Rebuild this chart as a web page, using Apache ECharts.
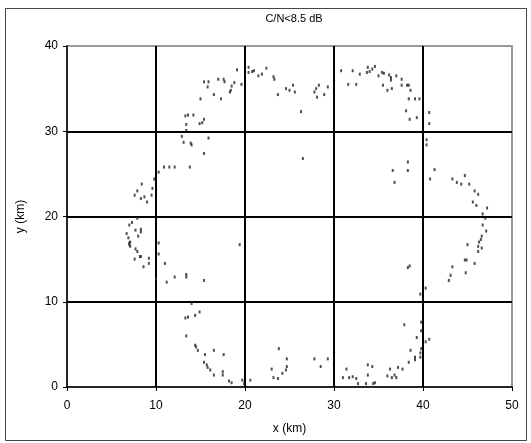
<!DOCTYPE html>
<html><head><meta charset="utf-8">
<script src="https://cdn.jsdelivr.net/npm/echarts@6/dist/echarts.min.js"></script>
<style>html,body{margin:0;padding:0;background:#fff}#c{width:531px;height:443px}</style>
</head><body><div id="c"></div>
<script>
const titleText = "C/N<8.5 dB";
const xName = "x (km)";
const yName = "y (km)";
const xTicks = [0, 10, 20, 30, 40, 50];
const yTicks = [0, 10, 20, 30, 40];
// x (km) values of the points
const xs = [
15.4,15.9,17.0,15.8,16.5,15.0,13.3,13.6,14.2,15.4,14.9,13.4,13.4,12.9,15.9,13.1,13.9,14.0,15.4,
19.1,20.4,20.4,20.8,21.0,21.5,21.9,22.4,23.2,23.3,17.6,17.7,18.8,18.5,18.4,18.3,19.6,17.3,
23.7,24.6,25.0,25.4,25.6,27.8,28.0,28.3,28.1,28.9,29.3,26.3,15.2,26.5,
30.8,32.1,32.9,33.7,33.8,34.0,34.3,34.6,35.0,35.4,35.6,36.2,36.4,36.4,37.0,37.6,31.6,32.5,
35.5,36.0,36.5,37.6,38.2,38.4,38.6,38.4,39.1,39.6,38.1,38.5,39.3,40.7,40.7,40.4,40.4,
10.9,11.5,12.1,13.8,10.3,9.8,8.4,9.6,7.9,7.6,8.3,8.7,9.0,9.5,7.9,7.3,7.0,7.7,8.3,8.3,6.7,6.9,8.0,
7.0,7.1,7.0,7.1,7.7,7.9,8.2,8.3,7.6,9.2,9.2,8.6,10.3,10.3,11.0,
10.0,11.2,12.1,13.4,13.4,15.4,14.0,13.3,13.6,14.4,14.9,13.4,14.4,14.5,14.7,15.5,16.5,17.6,
15.4,15.7,15.8,16.1,16.5,17.5,17.5,18.2,18.5,19.7,19.9,20.6,
23.8,24.7,23.0,23.2,23.7,24.7,24.6,24.2,27.8,29.3,28.5,31.4,31.0,31.7,32.1,32.5,
32.7,33.6,34.4,34.6,33.8,34.3,33.8,36.3,37.2,37.7,36.0,36.5,36.8,37.0,38.4,39.1,39.1,38.6,
39.8,39.7,39.7,40.3,40.7,39.3,39.8,39.8,37.9,40.3,39.7,38.5,38.3,43.3,43.1,42.9,44.8,44.7,44.9,45.8,
38.3,38.3,36.6,36.8,41.3,40.8,43.3,43.8,44.3,44.7,45.2,45.8,46.2,45.6,46.0,47.2,46.7,47.0,46.7,
47.1,46.6,46.5,46.3,46.2,46.6,45.0,46.2,19.4
];
// y (km) values of the points, same order
const ys = [
35.8,35.8,36.1,35.2,34.3,33.8,31.8,31.9,31.9,31.4,30.9,30.8,30.1,29.4,29.2,28.7,28.6,28.4,27.4,
37.2,37.5,36.9,37.0,37.1,36.5,36.7,37.4,36.4,36.1,36.1,35.8,35.7,35.3,34.8,34.6,35.5,33.8,
34.3,35.0,34.8,35.4,34.6,34.6,35.0,35.4,34.0,34.3,35.2,32.3,31.0,26.8,
37.1,37.1,36.7,36.9,37.5,37.0,37.3,37.6,36.5,36.9,36.8,36.6,36.3,36.0,36.5,36.1,35.5,35.5,
35.4,34.8,35.0,35.4,35.4,35.4,34.8,33.8,33.8,33.8,32.4,31.4,31.6,32.2,30.9,29.0,28.4,
25.8,25.8,25.8,25.8,25.2,24.4,23.8,23.3,23.0,22.5,22.1,22.3,21.7,22.5,19.8,19.3,19.0,18.4,18.5,18.2,18.0,17.5,17.7,
16.9,17.0,16.7,16.5,16.2,15.9,15.3,15.3,15.0,15.1,14.5,14.1,16.9,15.6,14.5,
12.7,12.3,12.9,12.9,13.2,12.5,9.8,8.1,8.2,8.4,8.8,6.0,4.9,4.7,4.3,3.8,4.3,3.8,
2.9,2.6,2.3,2.0,1.4,1.8,1.4,0.7,0.5,0.8,0.4,0.8,
4.5,3.3,2.1,1.1,1.0,2.4,2.0,1.6,3.3,3.3,2.4,2.1,1.1,1.1,1.2,1.0,
0.4,0.4,0.4,0.5,2.6,2.4,1.4,2.1,2.3,2.1,1.3,1.1,1.4,1.1,2.9,3.5,3.2,4.3,
4.5,4.0,3.5,5.3,5.6,5.8,6.6,7.6,7.3,11.6,10.9,14.2,14.0,14.1,13.1,12.5,13.4,14.9,14.9,14.5,
26.4,25.4,25.4,24.0,25.5,24.4,24.4,24.0,23.8,24.8,23.8,23.0,22.6,21.7,21.3,21.0,20.3,19.8,19.0,
18.3,17.7,17.3,17.0,16.5,16.3,16.7,15.9,16.7
];
const points = xs.map((x, i) => [x, ys[i]]);

const chart = echarts.init(document.getElementById('c'), null, {renderer: 'canvas'});
const font = 'Liberation Sans, Arial, sans-serif';
chart.setOption({
  animation: false,
  backgroundColor: '#ffffff',
  title: {
    text: titleText, left: 289, top: 8, textAlign: 'center',
    textStyle: {fontFamily: font, fontSize: 11, fontWeight: 'normal', color: '#000'}
  },
  graphic: [{
    type: 'rect', shape: {x: 5.5, y: 8.5, width: 521, height: 432},
    style: {fill: 'none', stroke: '#444', lineWidth: 1}, z: -1
  }],
  grid: {left: 67, right: 19, top: 46, bottom: 56, show: true, borderColor: '#999', borderWidth: 2, backgroundColor: '#fff'},
  xAxis: {
    type: 'value', min: xTicks[0], max: xTicks[xTicks.length - 1], interval: 10,
    name: xName, nameLocation: 'middle', nameGap: 36,
    nameTextStyle: {fontFamily: font, fontSize: 12, color: '#000'},
    axisLine: {show: true, onZero: false, lineStyle: {color: '#000', width: 1.5}},
    axisTick: {show: true, length: 4, lineStyle: {color: '#000'}},
    axisLabel: {fontFamily: font, fontSize: 12, color: '#000', margin: 13},
    splitLine: {show: true, showMinLine: false, showMaxLine: false, lineStyle: {color: '#000', width: 2}}
  },
  yAxis: {
    type: 'value', min: yTicks[0], max: yTicks[yTicks.length - 1], interval: 10,
    name: yName, nameLocation: 'middle', nameGap: 40,
    nameTextStyle: {fontFamily: font, fontSize: 12, color: '#000'},
    axisLine: {show: true, onZero: false, lineStyle: {color: '#000', width: 1.5}},
    axisTick: {show: true, length: 4, lineStyle: {color: '#000'}},
    axisLabel: {fontFamily: font, fontSize: 12, color: '#000', margin: 9},
    splitLine: {show: true, showMinLine: false, showMaxLine: false, lineStyle: {color: '#000', width: 2}}
  },
  series: [{
    type: 'scatter', data: points, symbol: 'rect', symbolSize: [2, 3],
    itemStyle: {color: '#222'}, z: 5
  }]
});
</script></body></html>
